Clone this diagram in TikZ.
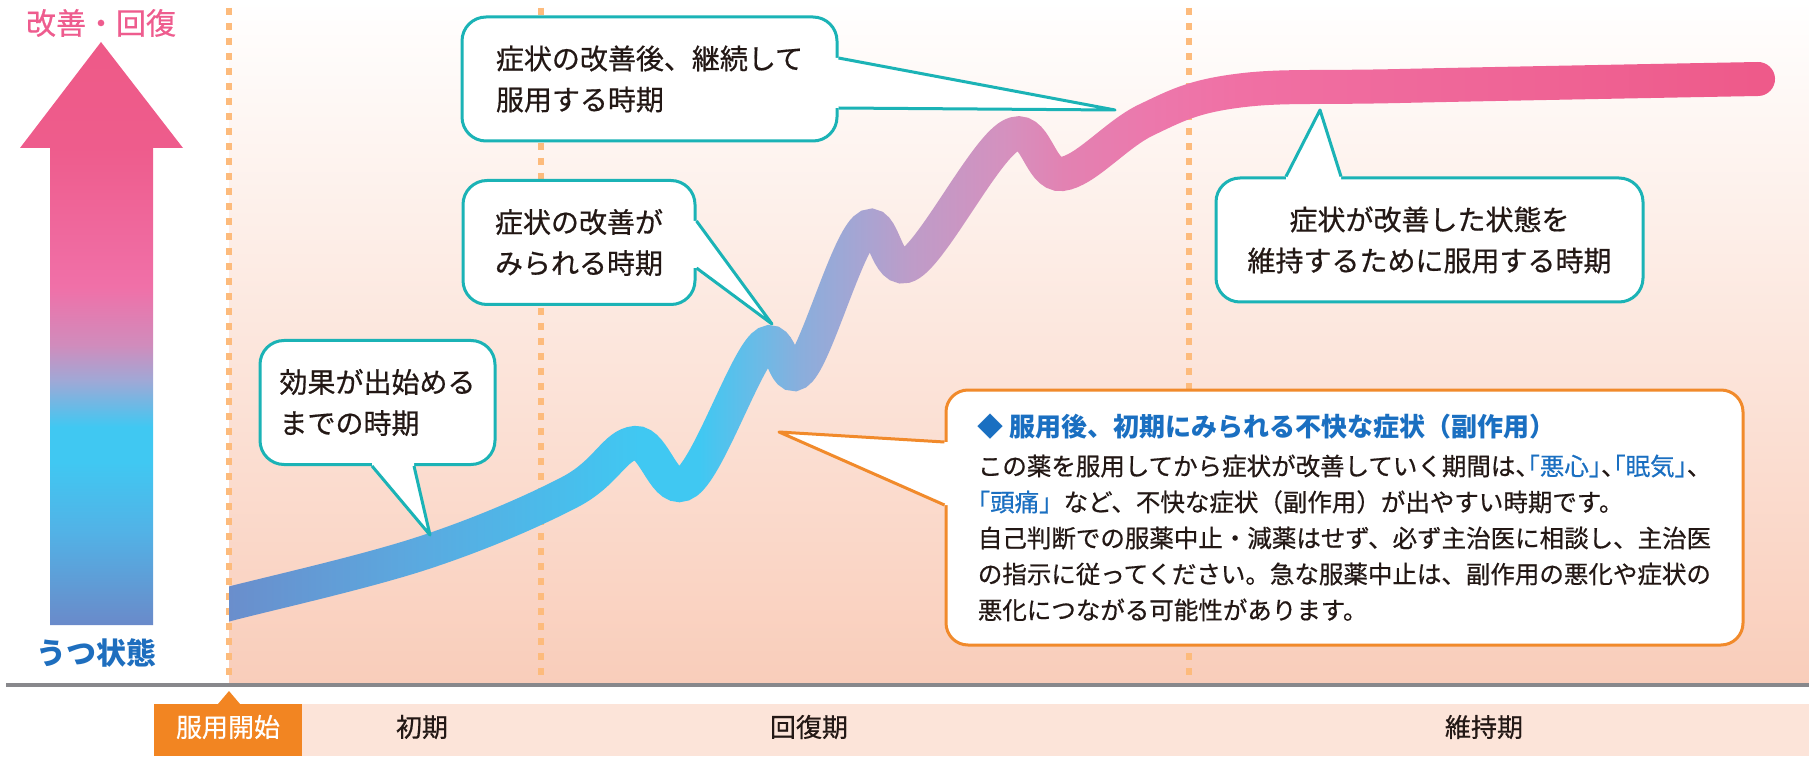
\documentclass[tikz,border=0pt]{standalone}
\usepackage{fontspec}
\setmainfont{Noto Sans CJK JP}
\newfontfamily\jpmed{Noto Sans CJK JP}[FakeBold=0.6]
\usetikzlibrary{fadings}

% colours
\definecolor{textdark}{HTML}{231815}
\definecolor{calloutteal}{HTML}{1BB3B6}
\definecolor{boxorange}{HTML}{F18A2B}
\definecolor{startorange}{HTML}{F28522}
\definecolor{bandpeach}{HTML}{FCE4D9}
\definecolor{bgpeach}{HTML}{F9CDBA}
\definecolor{dotorange}{HTML}{FDBB7C}
\definecolor{axisgray}{HTML}{88888C}
\definecolor{titleblue}{HTML}{1A6FC1}
\definecolor{moodpink}{HTML}{EE5C8E}
\definecolor{moodbluetext}{HTML}{1E6EBE}
% arrow colours
\definecolor{mood0}{HTML}{6A8ACA}
\definecolor{mood1}{HTML}{6494D0}
\definecolor{mood2}{HTML}{52B2E6}
\definecolor{mood3}{HTML}{40C8F2}
\definecolor{mood4}{HTML}{A0A8D6}
\definecolor{mood5}{HTML}{D08CBC}
\definecolor{mood6}{HTML}{F070A8}
\definecolor{mood7}{HTML}{EE5C8C}
\definecolor{mood8}{HTML}{EE5A88}
% curve colours
\definecolor{crv0}{HTML}{6A8ECC}
\definecolor{crv1}{HTML}{5AAAE0}
\definecolor{crv2}{HTML}{48BEEC}
\definecolor{crv3}{HTML}{40C8F2}
\definecolor{crv4}{HTML}{6CBAE6}
\definecolor{crv5}{HTML}{8AAEDC}
\definecolor{crv6}{HTML}{A8A4D2}
\definecolor{crv7}{HTML}{BE9CC8}
\definecolor{crv8}{HTML}{D690BE}
\definecolor{crv9}{HTML}{E282B2}
\definecolor{crva}{HTML}{EC78AC}
\definecolor{crvb}{HTML}{F070A4}
\definecolor{crvc}{HTML}{EE5A8A}

\pgfdeclareverticalshading{moodshade}{100bp}{color(0bp)=(mood0); color(25bp)=(mood0);
  color(27bp)=(mood1); color(33bp)=(mood2); color(39bp)=(mood3); color(42bp)=(mood3);
  color(46bp)=(mood4); color(49bp)=(mood5); color(54bp)=(mood6); color(66bp)=(mood7);
  color(75bp)=(mood8); color(100bp)=(mood8)}
\pgfdeclarehorizontalshading{curveshade}{100bp}{color(0bp)=(crv0); color(25bp)=(crv0);
  color(31.1bp)=(crv1); color(35.8bp)=(crv2); color(38bp)=(crv3); color(39.9bp)=(crv3);
  color(41.8bp)=(crv4); color(43.1bp)=(crv5); color(45.1bp)=(crv6); color(46.6bp)=(crv7);
  color(49.7bp)=(crv8); color(51.4bp)=(crv9); color(54.1bp)=(crva); color(57bp)=(crvb);
  color(73.4bp)=(crvc); color(100bp)=(crvc)}

% half width punctuation
\newcommand{\kakkoL}{\makebox[.5em][r]{「}}
\newcommand{\kakkoR}{\makebox[.5em][l]{」}}
\newcommand{\tenH}{\makebox[.5em][l]{、}}
% one point of the curve, in pt
\newcommand{\crvpt}[2]{\pgfplotstreampoint{\pgfpoint{#1pt}{#2pt}}}

\tikzset{
  callout/.style={draw=calloutteal, line width=3pt, fill=white, rounded corners=24pt,
    minimum height=124pt, inner sep=0pt, align=left, text=textdark,
    font=\jpmed\fontsize{28}{41}\selectfont},
  tealline/.style={draw=calloutteal, line width=3pt, line join=round},
  periodline/.style={draw=dotorange, line width=6pt, dash pattern=on 7pt off 8pt},
  phase/.style={text=textdark, font=\jpmed\fontsize{26}{30}\selectfont, inner sep=0pt}
}

\begin{document}
\begin{tikzpicture}[x=1pt, y=1pt]
  % the course of the symptoms, as a mask
  \pgfdeclarefading{curvefade}{%
    \begin{pgfpicture}
      \pgfpathrectangle{\pgfpoint{229pt}{71pt}}{\pgfpoint{1580pt}{685pt}}
      \pgfusepath{use as bounding box}
      \pgfsetfillcolor{black}
      \pgfpathrectangle{\pgfpoint{229pt}{71pt}}{\pgfpoint{1580pt}{685pt}}
      \pgfusepath{fill}
      \pgfpathrectangle{\pgfpoint{229pt}{71pt}}{\pgfpoint{1580pt}{685pt}}
      \pgfusepath{clip}
      \pgfsetlinewidth{34pt}
      \pgfsetroundcap
      \pgfsetstrokecolor{white}
      \pgfsetplottension{0.62}
      \pgfplothandlercurveto
      \pgfplotstreamstart
      \crvpt{210}{147}\crvpt{229}{152}\crvpt{423}{203}\crvpt{570}{264}
      \crvpt{635}{313}\crvpt{687}{274}\crvpt{763}{410}\crvpt{800}{386}
      \crvpt{865}{527}\crvpt{910}{492}\crvpt{1010}{620}\crvpt{1062}{582}
      \crvpt{1146}{636}\crvpt{1236}{665}\crvpt{1400}{670}\crvpt{1758}{677}
      \pgfplotstreamend
      \pgfusepath{stroke}
    \end{pgfpicture}}

  \useasboundingbox (0,0) rectangle (1809,756);

  % Peach background of the chart
  \fill[top color=white, bottom color=bgpeach] (229,71) rectangle (1809,756);

  % Dotted borders of the periods
  \foreach \x in {229,541,1189}
    \draw[periodline] (\x,748) -- (\x,76);

  % Course of the symptoms
  \shade[shading=curveshade, path fading=curvefade, fit fading=false,
    fading transform={shift={(1019,413.5)}}] (229,71) rectangle (1809,756);

  % Base line
  \draw[axisgray, line width=4pt] (6,71) -- (1809,71);

  % Band with the periods
  \fill[bandpeach] (302,0) rectangle (1809,52);
  \fill[startorange] (154,0) rectangle (302,52);
  \fill[startorange] (218,52) -- (229,65) -- (240,52) -- cycle;
  \node[phase, text=white] (start) at (228,29) {服用開始};
  \node[phase] (early) at (422,29) {初期};
  \node[phase] (recovery) at (809,29) {回復期};
  \node[phase] (maintenance) at (1484,29) {維持期};

  % Mood arrow
  \shade[shading=moodshade] (50,131) -- (50,608) -- (20,608) -- (101,714)
    -- (183,608) -- (153,608) -- (153,131) -- cycle;
  \node[text=moodpink, font=\jpmed\fontsize{30}{36}\selectfont] (better) at (101,733) {改善・回復};
  \node[text=moodbluetext, font=\bfseries\fontsize{30}{36}\selectfont] (low) at (96,103) {うつ状態};

  % Callout: continue after improvement
  \node[callout, minimum width=375pt] (keep) at (649.5,677) {症状の改善後、継続して\\服用する時期};
  \coordinate (keeptip) at (1115,646);
  \fill[white] ([yshift=21pt]keep.east) -- (keeptip) -- ([yshift=-29pt]keep.east)
    -- ([xshift=-6pt, yshift=-29pt]keep.east) -- ([xshift=-6pt, yshift=21pt]keep.east) -- cycle;
  \draw[tealline] ([yshift=21pt]keep.east) -- (keeptip) -- ([yshift=-29pt]keep.east);

  % Callout: improvement is seen
  \node[callout, minimum width=232pt] (seen) at (579,513.5) {症状の改善が\\みられる時期};
  \coordinate (seentip) at (772,432);
  \fill[white] ([yshift=21.5pt]seen.east) -- (seentip) -- ([yshift=-25.5pt]seen.east)
    -- ([xshift=-6pt, yshift=-25.5pt]seen.east) -- ([xshift=-6pt, yshift=21.5pt]seen.east) -- cycle;
  \draw[tealline] ([yshift=21.5pt]seen.east) -- (seentip) -- ([yshift=-25.5pt]seen.east);

  % Callout: until the effect starts
  \node[callout, minimum width=235pt] (onset) at (377.5,353.5) {効果が出始める\\までの時期};
  \coordinate (onsettip) at (430,221);
  \fill[white] ([xshift=-5.5pt]onset.south) -- (onsettip) -- ([xshift=36.5pt]onset.south)
    -- ([xshift=36.5pt, yshift=6pt]onset.south) -- ([xshift=-5.5pt, yshift=6pt]onset.south) -- cycle;
  \draw[tealline] ([xshift=-5.5pt]onset.south) -- (onsettip) -- ([xshift=36.5pt]onset.south);

  % Callout: maintenance
  \node[callout, minimum width=427pt, align=center] (maintain) at (1429.5,516)
    {症状が改善した状態を\\維持するために服用する時期};
  \coordinate (maintaintip) at (1320,646);
  \fill[white] ([xshift=-143.5pt]maintain.north) -- (maintaintip) -- ([xshift=-88.5pt]maintain.north)
    -- ([xshift=-88.5pt, yshift=-6pt]maintain.north) -- ([xshift=-143.5pt, yshift=-6pt]maintain.north) -- cycle;
  \draw[tealline] ([xshift=-143.5pt]maintain.north) -- (maintaintip) -- ([xshift=-88.5pt]maintain.north);

  % Side effects box
  \node[draw=boxorange, line width=3pt, fill=white, rounded corners=22pt, inner sep=0pt,
    minimum width=797pt, minimum height=255pt, align=left, text=textdark,
    font=\fontsize{24.5}{36}\selectfont] (side) at (1344.5,238.5)
    {{\color{titleblue}\bfseries\fontsize{26}{36}\selectfont ◆ 服用後、初期にみられる不快な症状（副作用）}\\[3pt]
     \jpmed この薬を服用してから症状が改善していく期間は\tenH{\color{titleblue}\kakkoL 悪心\kakkoR}\tenH{\color{titleblue}\kakkoL 眠気\kakkoR}\tenH\\
     \jpmed{\color{titleblue}\kakkoL 頭痛」}など、不快な症状（副作用）が出やすい時期です。\\
     \jpmed 自己判断での服薬中止・減薬はせず、必ず主治医に相談し、主治医\\
     \jpmed の指示に従ってください。急な服薬中止は、副作用の悪化や症状の\\
     \jpmed 悪化につながる可能性があります。};
  \coordinate (sidetip) at (779,324);
  \fill[white] ([yshift=75.5pt]side.west) -- (sidetip) -- ([yshift=12.5pt]side.west)
    -- ([xshift=6pt, yshift=12.5pt]side.west) -- ([xshift=6pt, yshift=75.5pt]side.west) -- cycle;
  \draw[draw=boxorange, line width=3pt, line join=round] ([yshift=75.5pt]side.west) -- (sidetip) -- ([yshift=12.5pt]side.west);
\end{tikzpicture}
\end{document}
